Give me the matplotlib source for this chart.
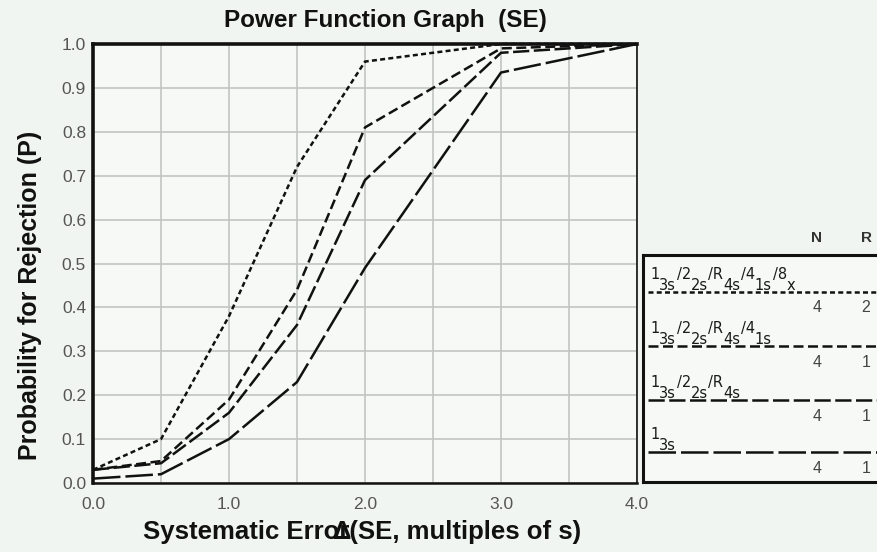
import matplotlib
matplotlib.use("Agg")
import matplotlib.pyplot as plt
import numpy as np

plt.rcParams['font.family'] = ['Liberation Sans', 'DejaVu Sans']

# Systematic error (multiples of s)
shift = [0.0, 0.5, 1.0, 1.5, 2.0, 3.0, 4.0]

# Probability of rejection for each QC rule set
p_multi_8x = [0.03, 0.10, 0.38, 0.72, 0.96, 1.00, 1.00]
p_multi_41s = [0.03, 0.05, 0.19, 0.44, 0.81, 0.99, 1.00]
p_multi_r4s = [0.03, 0.045, 0.16, 0.36, 0.69, 0.98, 1.00]
p_13s = [0.01, 0.02, 0.10, 0.23, 0.49, 0.935, 1.00]

# QC rules as (raised part, lowered part) pieces
rule_pieces = [
    [("1", "3s"), ("/2", "2s"), ("/R", "4s"), ("/4", "1s"), ("/8", "x")],
    [("1", "3s"), ("/2", "2s"), ("/R", "4s"), ("/4", "1s")],
    [("1", "3s"), ("/2", "2s"), ("/R", "4s")],
    [("1", "3s")],
]
n_values = ["4", "4", "4", "4"]
r_values = ["2", "1", "1", "1"]

x_ticks = [0.0, 1.0, 2.0, 3.0, 4.0]
y_ticks = [0.0, 0.1, 0.2, 0.3, 0.4, 0.5, 0.6, 0.7, 0.8, 0.9, 1.0]

W, H = 877, 552
fig = plt.figure(figsize=(W / 100, H / 100), dpi=100)
fig.patch.set_facecolor('#f1f5f1')
renderer = fig.canvas.get_renderer()

LW = 1.8  # points
styles = [(0, (2.0, 1.3)), (0, (4.0, 1.8)), (0, (6.5, 1.8)), (0, (11.0, 2.0))]
series = [p_multi_8x, p_multi_41s, p_multi_r4s, p_13s]

ax = fig.add_axes([93 / W, 1 - 483 / H, (637 - 93) / W, (483 - 44) / H])
ax.set_facecolor('#f6f9f6')
ax.set_xlim(0, 4)
ax.set_ylim(0, 1)
ax.set_xticks(x_ticks)
ax.set_xticklabels([f"{v:.1f}" for v in x_ticks])
ax.set_xticks(np.arange(0.5, 4.0, 1.0), minor=True)
ax.set_yticks(y_ticks)
ax.set_yticklabels([f"{v:.1f}" for v in y_ticks])
ax.grid(True, which='both', color='#c2c6c2', linewidth=1.2)
ax.set_axisbelow(True)
ax.tick_params(which='both', length=0, labelsize=12.5, labelcolor='#555555', pad=5)
ax.tick_params(axis='x', pad=10)
for side, lw in [('left', 2.6), ('top', 2.6), ('bottom', 1.8), ('right', 1.2)]:
    ax.spines[side].set_linewidth(lw)
    ax.spines[side].set_color('#111111')

for ys, ls in zip(series, styles):
    ax.plot(shift, ys, color='#111111', linewidth=LW, linestyle=ls,
            dash_capstyle='butt', clip_on=False, zorder=3)

fig.text(385 / W, 1 - 21 / H, "Power Function Graph  (SE)", ha='center',
         va='center', fontsize=17.5, fontweight='bold', color='#111111')
fig.text(30 / W, 1 - 295 / H, "Probability for Rejection (P)", rotation=90,
         ha='center', va='center', fontsize=18, fontweight='bold', color='#111111')

# x-axis title, with the delta sign set over the end of "Error"
label_props = dict(fontsize=18.5, fontweight='bold', color='#111111')
xl = fig.text(362 / W, 1 - 532 / H, "Systematic Error(SE, multiples of s)",
              ha='center', va='center', **label_props)
full_bb = xl.get_window_extent(renderer)
probe = fig.text(0, 0, "Systematic Erro", **label_props)
prefix_w = probe.get_window_extent(renderer).width
probe.remove()
delta_x = full_bb.x0 + prefix_w + 3
fig.text(delta_x / W, 1 - 532 / H, "\u0394", ha='center', va='center',
         **label_props)

# Rule key box
lg = fig.add_axes([643 / W, 1 - 482 / H, (900 - 643) / W, (482 - 255) / H])
lg.set_facecolor('#f6f9f6')
lg.set_xlim(643, 900)
lg.set_ylim(482, 255)
lg.set_xticks([])
lg.set_yticks([])
for side in ['left', 'top', 'bottom']:
    lg.spines[side].set_linewidth(2.2)
    lg.spines[side].set_color('#111111')

fig.text(817 / W, 1 - 238 / H, "N", ha='center', va='center', fontsize=11,
         fontweight='bold', color='#333333')
fig.text(866 / W, 1 - 238 / H, "R", ha='center', va='center', fontsize=11,
         fontweight='bold', color='#333333')

key_font = dict(family='DejaVu Sans', fontsize=10.5, color='#1a1a1a')


def text_width(s):
    t = fig.text(0, 0, s, **key_font)
    w = t.get_window_extent(renderer).width
    t.remove()
    return w


row_y = [292, 346, 400, 452]
for pieces, n, r, ls, yy in zip(rule_pieces, n_values, r_values, styles, row_y):
    lg.plot([648, 900], [yy, yy], color='#111111', linewidth=LW, linestyle=ls,
            dash_capstyle='butt')
    x = 650.0
    for hi, lo in pieces:
        fig.text(x / W, 1 - (yy - 13) / H, hi, ha='left', va='baseline', **key_font)
        x += text_width(hi) - 0.5
        fig.text(x / W, 1 - (yy - 2) / H, lo, ha='left', va='baseline', **key_font)
        x += text_width(lo) + 1.0
    lg.text(817, yy + 16, n, ha='center', va='center', fontsize=11.5,
            color='#444444')
    lg.text(866, yy + 16, r, ha='center', va='center', fontsize=11.5,
            color='#444444')

fig.savefig("out.png", dpi=100, facecolor=fig.get_facecolor())
